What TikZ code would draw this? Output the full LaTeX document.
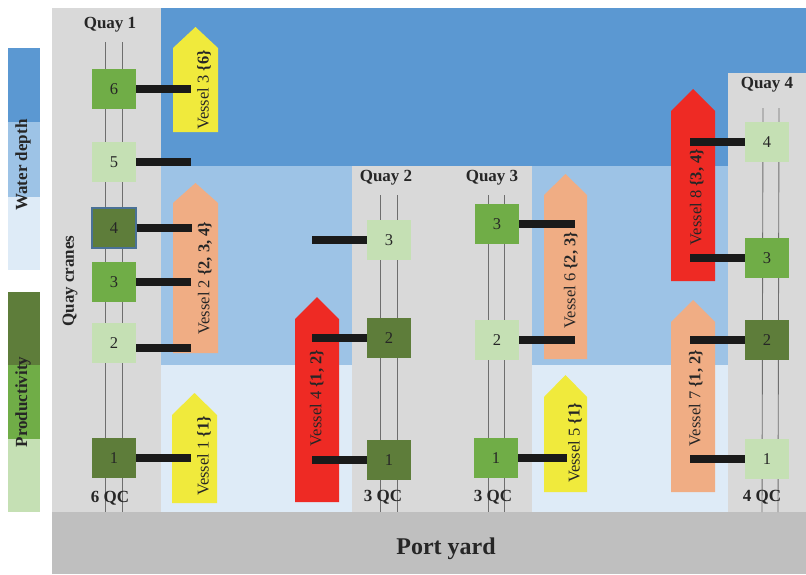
\documentclass[tikz,border=0pt]{standalone}
\usepackage{fontspec}
\setmainfont{Liberation Serif}
\definecolor{deepblue}{HTML}{5B98D2}
\definecolor{midblue}{HTML}{9DC3E6}
\definecolor{lightblue}{HTML}{DEEBF7}
\definecolor{quaygray}{HTML}{D9D9D9}
\definecolor{yardgray}{HTML}{BFBFBF}
\definecolor{gdark}{HTML}{5E7D3A}
\definecolor{gmid}{HTML}{70AD47}
\definecolor{glight}{HTML}{C5E0B4}
\definecolor{vred}{HTML}{EE2A24}
\definecolor{vyellow}{HTML}{F0EA3C}
\definecolor{vsalmon}{HTML}{F0AD84}
\definecolor{railgray}{HTML}{6E6E6E}
\definecolor{armblack}{HTML}{1A1A1A}
\definecolor{txt}{HTML}{262626}
\definecolor{cborder}{HTML}{4A7196}
\tikzset{
  crane/.style={rectangle, minimum width=44pt, minimum height=40pt, inner sep=0pt,
    font=\fontsize{16.5}{16.5}\selectfont, text=txt},
  cdark/.style={crane, fill=gdark},
  cmid/.style={crane, fill=gmid},
  clight/.style={crane, fill=glight},
  arm/.style={draw=armblack, line width=8pt},
  rail/.style={draw=railgray, line width=0.9pt},
  boldlabel/.style={font=\fontsize{17}{17}\selectfont\bfseries, text=txt, inner sep=0pt},
  vlabel/.style={rotate=90, font=\fontsize{16.5}{16.5}\selectfont, text=txt, inner sep=0pt},
}
\newcommand{\vesselshape}[6]{%
  \fill[#6] (#1,#5) -- (#1,#4) -- ({(#1+#2)/2},#3) -- (#2,#4) -- (#2,#5) -- cycle;}
\begin{document}
\begin{tikzpicture}[x=1pt,y=-1pt]
\useasboundingbox (0,0) rectangle (806,574);
\fill[white] (0,0) rectangle (806,574);
% background regions
\fill[yardgray] (52,512) rectangle (806,574);
\fill[quaygray] (52,8) rectangle (161,512);
\fill[deepblue] (161,8) rectangle (806,166);
\fill[midblue] (161,166) rectangle (806,365);
\fill[lightblue] (161,365) rectangle (806,512);
\fill[quaygray] (352,166) rectangle (532,512);
\fill[quaygray] (728,73) rectangle (806,512);
% legend bars
\fill[deepblue] (8,48) rectangle (40,122);
\fill[midblue] (8,122) rectangle (40,197);
\fill[lightblue] (8,197) rectangle (40,270);
\fill[gdark] (8,292) rectangle (40,365);
\fill[gmid] (8,365) rectangle (40,439);
\fill[glight] (8,439) rectangle (40,512);
\node[boldlabel, rotate=90] (wd) at (23,165) {Water depth};
\node[boldlabel, rotate=90] (pr) at (23,402) {Productivity};
\node[boldlabel, rotate=90] (qc) at (70,281) {Quay cranes};
% rails
\draw[rail] (105,42) -- (105,512);
\draw[rail] (122,42) -- (122,512);
\draw[rail] (380,195) -- (380,512);
\draw[rail] (397,195) -- (397,512);
\draw[rail] (488,195) -- (488,512);
\draw[rail] (504,195) -- (504,512);
\draw[rail] (763,108) -- (762,512);
\draw[rail] (779,108) -- (778,512);
% quay labels
\node[boldlabel] (l1) at (110,25) {Quay 1};
\node[boldlabel] (l2) at (386,178) {Quay 2};
\node[boldlabel] (l3) at (492,178) {Quay 3};
\node[boldlabel] (l4) at (767,85) {Quay 4};
\node[boldlabel] (n1) at (110,498) {6 QC};
\node[boldlabel] (n2) at (383,497) {3 QC};
\node[boldlabel] (n3) at (493,497) {3 QC};
\node[boldlabel] (n4) at (762,497) {4 QC};
\node[font=\fontsize{24}{24}\selectfont\bfseries, text=txt] (yard) at (446,549) {Port yard};
% vessels
\vesselshape{173}{218}{27}{48}{132}{vyellow}
\vesselshape{173}{218}{183}{203}{353}{vsalmon}
\vesselshape{172}{217}{393}{415}{503}{vyellow}
\vesselshape{295}{339}{297}{319}{502}{vred}
\vesselshape{544}{587}{174}{195}{359}{vsalmon}
\vesselshape{544}{587}{375}{397}{492}{vyellow}
\vesselshape{671}{715}{89}{111}{281}{vred}
\vesselshape{671}{715}{300}{322}{492}{vsalmon}
\node[vlabel] (v3) at (204,90) {Vessel 3 \textbf{\{6\}}};
\node[vlabel] (v2) at (205,278) {Vessel 2 \textbf{\{2, 3, 4\}}};
\node[vlabel] (v1) at (204,456) {Vessel 1 \textbf{\{1\}}};
\node[vlabel] (v4) at (317,398) {Vessel 4 \textbf{\{1, 2\}}};
\node[vlabel] (v6) at (571,280) {Vessel 6 \textbf{\{2, 3\}}};
\node[vlabel] (v5) at (575,443) {Vessel 5 \textbf{\{1\}}};
\node[vlabel] (v8) at (697,197) {Vessel 8 \textbf{\{3, 4\}}};
\node[vlabel] (v7) at (696,398) {Vessel 7 \textbf{\{1, 2\}}};
% cranes quay 1
\node[cmid] (q1c6) at (114,89) {6};
\node[clight] (q1c5) at (114,162) {5};
\node[cdark, draw=cborder, line width=1.2pt] (q1c4) at (114,228) {4};
\node[cmid] (q1c3) at (114,282) {3};
\node[clight] (q1c2) at (114,343) {2};
\node[cdark] (q1c1) at (114,458) {1};
% cranes quay 2
\node[clight] (q2c3) at (389,240) {3};
\node[cdark] (q2c2) at (389,338) {2};
\node[cdark] (q2c1) at (389,460) {1};
% cranes quay 3
\node[cmid] (q3c3) at (497,224) {3};
\node[clight] (q3c2) at (497,340) {2};
\node[cmid] (q3c1) at (496,458) {1};
% cranes quay 4
\node[clight] (q4c4) at (767,142) {4};
\node[cmid] (q4c3) at (767,258) {3};
\node[cdark] (q4c2) at (767,340) {2};
\node[clight] (q4c1) at (767,459) {1};
% arms
\draw[arm] (q1c6.east) -- ++(55,0);
\draw[arm] (q1c5.east) -- ++(55,0);
\draw[arm] (q1c4.east) -- ++(55,0);
\draw[arm] (q1c3.east) -- ++(55,0);
\draw[arm] ([yshift=-5pt]q1c2.east) -- ++(55,0);
\draw[arm] (q1c1.east) -- ++(55,0);
\draw[arm] (q2c3.west) -- ++(-55,0);
\draw[arm] (q2c2.west) -- ++(-55,0);
\draw[arm] (q2c1.west) -- ++(-55,0);
\draw[arm] (q3c3.east) -- ++(56,0);
\draw[arm] (q3c2.east) -- ++(56,0);
\draw[arm] (q3c1.east) -- ++(49,0);
\draw[arm] (q4c4.west) -- ++(-55,0);
\draw[arm] (q4c3.west) -- ++(-55,0);
\draw[arm] (q4c2.west) -- ++(-55,0);
\draw[arm] (q4c1.west) -- ++(-55,0);
\end{tikzpicture}
\end{document}
